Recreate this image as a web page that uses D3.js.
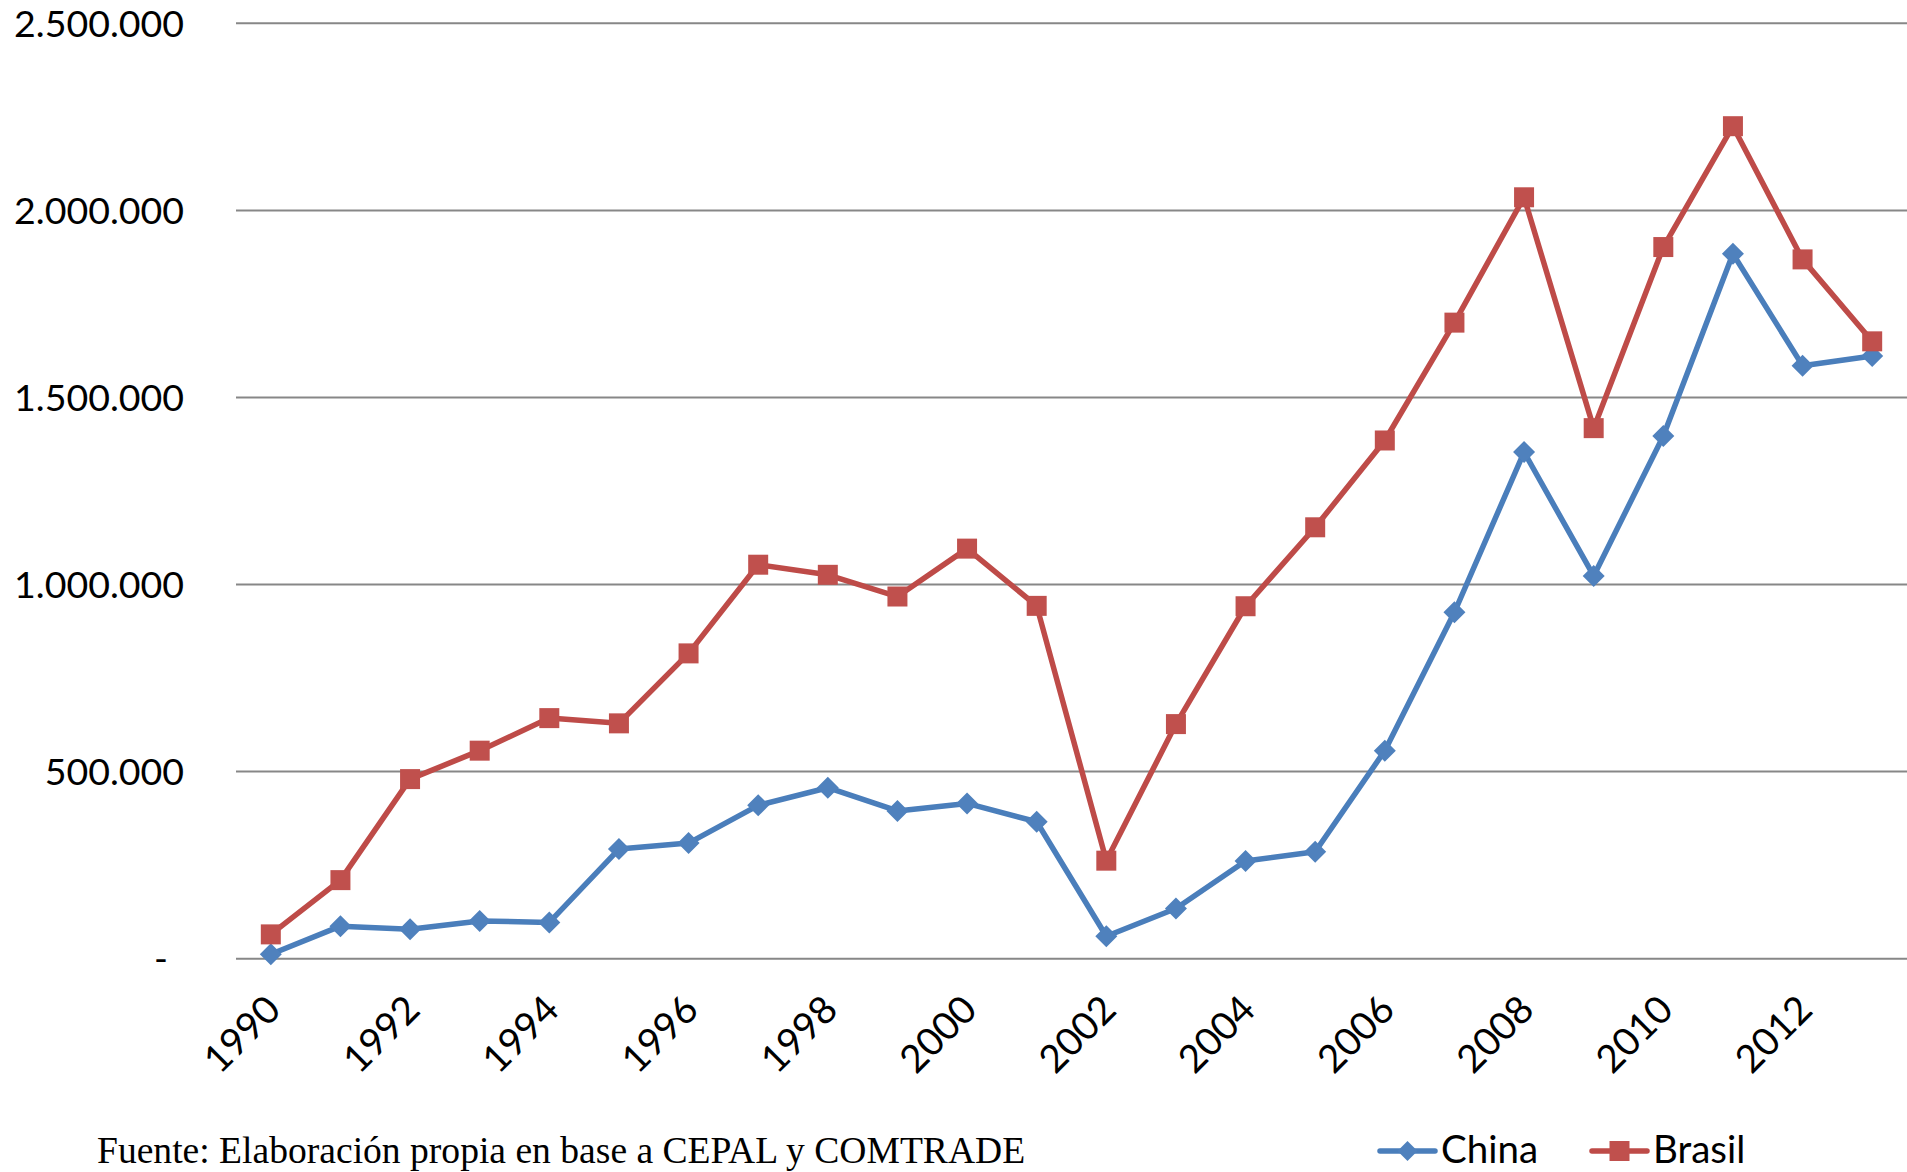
<!DOCTYPE html>
<html>
<head>
<meta charset="utf-8">
<script src="https://cdn.jsdelivr.net/npm/d3@7"></script>
<style>
  body { margin: 0; background: #ffffff; }
  svg { display: block; }
</style>
</head>
<body>
<svg id="chart" width="1907" height="1172"></svg>
<script>
// Series values
const years = ['1990', '1991', '1992', '1993', '1994', '1995', '1996', '1997', '1998', '1999', '2000', '2001',
	'2002', '2003', '2004', '2005', '2006', '2007', '2008', '2009', '2010', '2011', '2012', '2013'];
const china = [12000, 87000, 78500, 101000, 97000, 293000, 309000, 410000, 457000, 395000, 415000, 366000,
	60000, 134000, 261000, 286000, 556000, 926000, 1354000, 1023000, 1397000, 1884000, 1585000, 1611000];
const brasil = [65000, 210000, 480000, 556000, 643000, 629000, 816000, 1053000, 1026000, 968000, 1096000, 943000,
	262000, 627000, 942000, 1153000, 1385000, 1700000, 2035000, 1418000, 1902000, 2225000, 1869000, 1650000];
const yTicks = [0, 500000, 1000000, 1500000, 2000000, 2500000];
const xTickLabels = ['1990', '1992', '1994', '1996', '1998', '2000', '2002', '2004', '2006', '2008', '2010', '2012'];
const seriesNames = ['China', 'Brasil'];
const sourceNote = 'Fuente: Elaboración propia en base a CEPAL y COMTRADE';

const svg = d3.select('#chart');
const plot = { left: 236, right: 1907, top: 23.3, bottom: 958.7 };

const x = d3.scalePoint().domain(years).range([plot.left, plot.right]).padding(0.5);
const y = d3.scaleLinear().domain([0, 2500000]).range([plot.bottom, plot.top]);

// Spanish-style thousands separator
const esLocale = d3.formatLocale({ decimal: ',', thousands: '.', grouping: [3], currency: ['', ''] });
const fmt = esLocale.format(',d');

const colors = {
	China: { line: '#4A7EBB', marker: '#4F81BD' },
	Brasil: { line: '#BE4B48', marker: '#C0504D' }
};
const labelFont = 'Lato, "Open Sans", sans-serif';

// Gridlines
svg.append('g')
	.attr('class', 'grid')
	.selectAll('line')
	.data(yTicks)
	.enter()
	.append('line')
	.attr('x1', plot.left)
	.attr('x2', plot.right)
	.attr('y1', (d) => y(d))
	.attr('y2', (d) => y(d))
	.attr('stroke', '#878787')
	.attr('stroke-width', 2);

// Y axis labels
svg.append('g')
	.attr('class', 'y-labels')
	.selectAll('text')
	.data(yTicks)
	.enter()
	.append('text')
	.attr('x', (d) => (d === 0 ? 168 : 184))
	.attr('y', (d) => y(d) + 13.5)
	.attr('text-anchor', 'end')
	.attr('font-family', labelFont)
	.attr('font-size', 37.5)
	.attr('fill', '#000')
	.text((d) => (d === 0 ? '-' : fmt(d)));

// X axis labels, rotated
svg.append('g')
	.attr('class', 'x-labels')
	.selectAll('text')
	.data(xTickLabels)
	.enter()
	.append('text')
	.attr('transform', (d) => `translate(${x(d) + 12}, 1012) rotate(-45)`)
	.attr('text-anchor', 'end')
	.attr('font-family', labelFont)
	.attr('font-size', 38.5)
	.attr('fill', '#000')
	.text((d) => d);

const line = d3.line()
	.x((d) => x(d.year))
	.y((d) => y(d.value));

const diamond = (s) => `M0,${-s}L${s},0L0,${s}L${-s},0Z`;

function drawSeries(name, values) {
	const pts = years.map((yr, i) => ({ year: yr, value: values[i] }));
	const g = svg.append('g').attr('class', `series ${name.toLowerCase()}`);

	g.append('path')
		.datum(pts)
		.attr('d', line)
		.attr('fill', 'none')
		.attr('stroke', colors[name].line)
		.attr('stroke-width', 5.5)
		.attr('stroke-linejoin', 'round');

	const m = g.selectAll('.marker')
		.data(pts)
		.enter()
		.append('path')
		.attr('class', 'marker')
		.attr('transform', (d) => `translate(${x(d.year)}, ${y(d.value)})`)
		.attr('fill', colors[name].marker);

	if (name === 'China') {
		m.attr('d', diamond(11));
	} else {
		m.attr('d', 'M-10,-10H10V10H-10Z');
	}
}

drawSeries('China', china);
drawSeries('Brasil', brasil);

// Source note
svg.append('text')
	.attr('x', 97)
	.attr('y', 1163)
	.attr('font-family', '"Liberation Serif", "Times New Roman", serif')
	.attr('font-size', 37.6)
	.attr('fill', '#000')
	.text(sourceNote);

// Legend
const legend = svg.append('g').attr('class', 'legend');
const legendX = [1380, 1592];
seriesNames.forEach((name, i) => {
	const lg = legend.append('g').attr('transform', `translate(${legendX[i]}, 1151)`);
	lg.append('line')
		.attr('x1', 0)
		.attr('x2', 55)
		.attr('stroke', colors[name].line)
		.attr('stroke-width', 5.5)
		.attr('stroke-linecap', 'round');
	lg.append('path')
		.attr('transform', 'translate(27.5, 0)')
		.attr('d', name === 'China' ? diamond(10) : 'M-10,-10H10V10H-10Z')
		.attr('fill', colors[name].marker);
	lg.append('text')
		.attr('x', 61)
		.attr('y', 12)
		.attr('font-family', labelFont)
		.attr('font-size', 38.5)
		.attr('fill', '#000')
		.text(name);
});
</script>
</body>
</html>
